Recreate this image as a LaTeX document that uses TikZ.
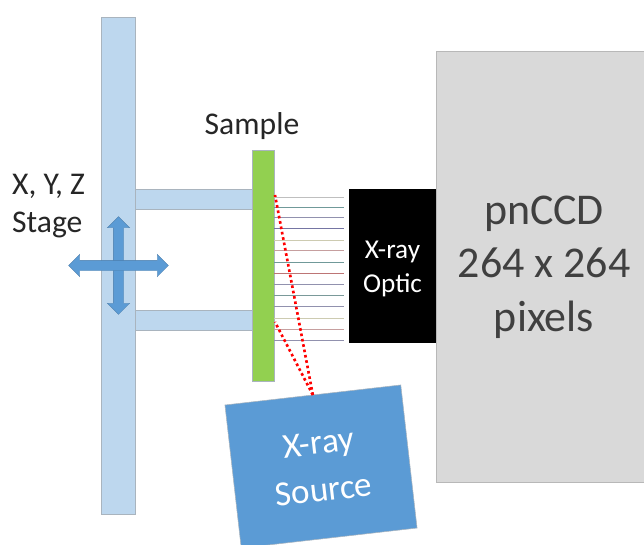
\documentclass[tikz,border=0pt]{standalone}
\usepackage{fontspec}
\setmainfont{Carlito}
\usetikzlibrary{shapes.arrows}
\definecolor{stageblue}{HTML}{BDD7EE}
\definecolor{samplegreen}{HTML}{92D050}
\definecolor{sourceblue}{HTML}{5B9BD5}
\definecolor{detgrey}{HTML}{D9D9D9}
\definecolor{edgegrey}{HTML}{A9B4BE}
\definecolor{rayred}{HTML}{FF0000}
\tikzset{
  block/.style={rectangle, inner sep=0, outer sep=0, anchor=north west, draw=edgegrey, line width=0.3pt},
  beam/.style={line width=0.55pt, shorten >=0.1cm},
  ray/.style={rayred, line width=1.5pt, dash pattern=on 1.5pt off 1.6pt},
  stagearrow/.style={double arrow, fill=sourceblue, draw=sourceblue!80!black, line width=0.2pt,
    inner sep=0.1cm, minimum width=0.44cm, double arrow head extend=0.12cm, outer sep=0},
}
\begin{document}
\begin{tikzpicture}[x=0.02cm, y=-0.02cm]
  \clip (0,0) rectangle (644,544);
  \fill[white] (0,0) rectangle (644,544);
  \node[block, fill=stageblue, minimum width=0.68cm, minimum height=9.94cm] (stage) at (101,17) {};
  \node[block, fill=stageblue, minimum width=2.34cm, minimum height=0.4cm] (armtop) at (135,189) {};
  \node[block, fill=stageblue, minimum width=2.34cm, minimum height=0.4cm] (armbottom) at (135,310) {};
  \node[block, fill=samplegreen, minimum width=0.44cm, minimum height=4.62cm] (sample) at (252,150) {};
  \node[block, fill=black, draw=black, minimum width=1.74cm, minimum height=3.06cm] (optic) at (349,189) {};
  \node[block, fill=detgrey, draw=detgrey!85!black, minimum width=4.16cm, minimum height=8.62cm] (detector) at (436,51) {};
  \foreach \y/\c in {197/gray!50, 207/teal!40!gray!80, 217/blue!15!gray!75, 228/blue!20!gray!90,
                     240/olive!30!gray!45, 250/red!25!gray!60, 262/teal!40!gray!80, 273/red!35!gray!80,
                     284/blue!15!gray!75, 295/teal!30!gray!80, 306/blue!15!gray!75, 318/olive!30!gray!45,
                     329/red!25!gray!60, 340/blue!15!gray!75} {
    \draw[beam, \c] (sample.east |- 0,\y) -- (optic.west |- 0,\y);
  }
  \node[rectangle, inner sep=0, outer sep=0, fill=sourceblue, draw=edgegrey, line width=0.3pt,
    minimum width=3.54cm, minimum height=2.88cm, rotate=6.5, text=white, align=center,
    font=\fontsize{20}{27}\selectfont] (source) at (321,466.5) {X-ray\\Source};
  \coordinate (raytop) at (275,195);
  \coordinate (raybottom) at (275,322);
  \draw[ray] (source.north) -- (raytop);
  \draw[ray] (source.north) -- (raybottom);
  \node[stagearrow, minimum height=1.96cm, rotate=90] (stagey) at (118.5,265.5) {};
  \node[stagearrow, minimum height=2cm] (stagex) at (118.5,265.5) {};
  \node[font=\fontsize{18}{22}\selectfont, align=left, anchor=west, text=black!85] (stagelabel) at (6,206) {X, Y, Z\\Stage};
  \node[font=\fontsize{18}{22}\selectfont, text=black!85] (samplelabel) at (252,126) {Sample};
  \node[font=\fontsize{15.5}{19}\selectfont, align=center, text=white] (opticlabel) at (392.5,269) {X-ray\\Optic};
  \node[font=\fontsize{25}{30.5}\selectfont, align=center, text=black!75] (detectorlabel) at (544,267) {pnCCD\\264 x 264\\pixels};
\end{tikzpicture}
\end{document}
